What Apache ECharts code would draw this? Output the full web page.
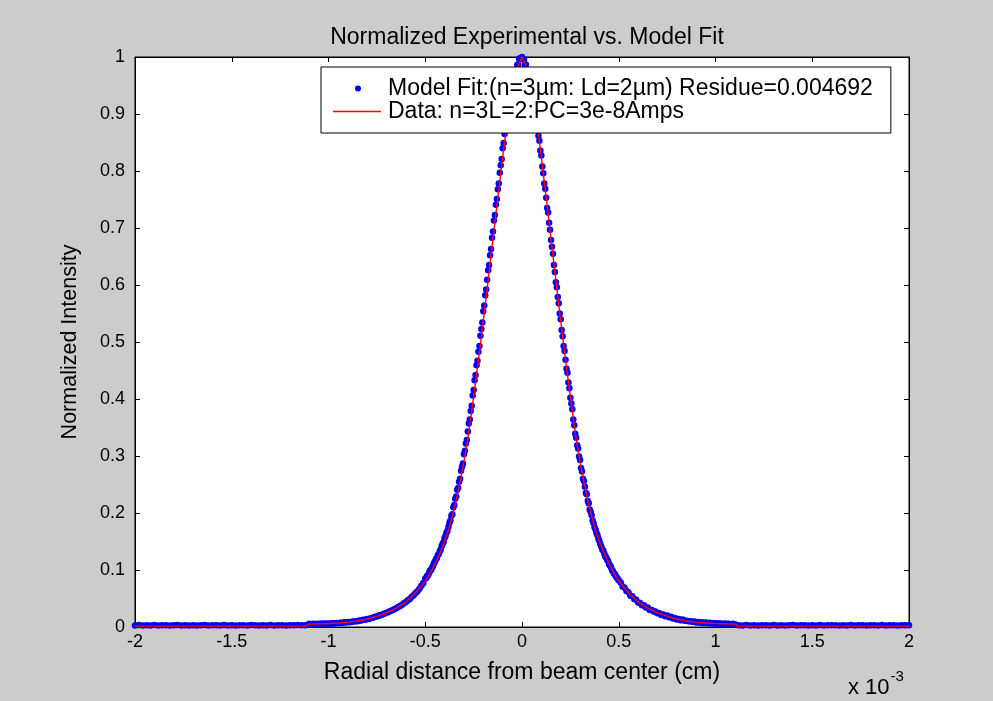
<!DOCTYPE html>
<html>
<head>
<meta charset="utf-8">
<title>Normalized Experimental vs. Model Fit</title>
<script src="https://cdn.jsdelivr.net/npm/echarts@6/dist/echarts.min.js"></script>
<style>
  html, body { margin: 0; padding: 0; background: #cccccc; }
  #chart { width: 993px; height: 701px; }
</style>
</head>
<body>
<div id="chart"></div>
<script>
// Radial positions are in units of 1e-3 cm (see the "x 10^-3" multiplier).
const titleText = 'Normalized Experimental vs. Model Fit';
const xAxisName = 'Radial distance from beam center (cm)';
const yAxisName = 'Normalized Intensity';
const fitName = 'Model Fit:(n=3\u00b5m: Ld=2\u00b5m) Residue=0.004692';
const dataName = 'Data: n=3L=2:PC=3e-8Amps';

// Model fit samples, grouped by sampling segment: [start, step, values]
const fitTailLeft = [
  0.0027,0.0033,0.0025,0.0031,0.0028,0.0034,0.0026,0.0030,0.0032,0.0027,
  0.0029,0.0033,0.0025,0.0031,0.0028,0.0032,0.0026,0.0030,0.0034,0.0027,
  0.0029,0.0031,0.0026,0.0033,0.0028,0.0030,0.0025,0.0032,0.0029,0.0027,
  0.0033,0.0030,0.0026,0.0031,0.0028,0.0034,0.0027,0.0030,0.0032,0.0028,
  0.0031,0.0029,0.0033,0.0030,0.0032
];
const fitMidLeft = [
  0.0055,0.0050,0.0057,0.0051,0.0058,0.0053,0.0060,0.0054,0.0061,0.0056,
  0.0063,0.0059,0.0067,0.0062,0.0071,0.0066,0.0076,0.0071,0.0082,0.0077,
  0.0088,0.0084,0.0094,0.0096,0.0103,0.0101,0.0113,0.0112,0.0127,0.0126,
  0.0141,0.0142,0.0160,0.0162,0.0180,0.0183,0.0201,0.0207,0.0224,0.0236,
  0.0250,0.0264,0.0280,0.0296,0.0313,0.0328,0.0352,0.0368,0.0392,0.0415,
  0.0438,0.0468,0.0492,0.0530,0.0555,0.0595,0.0628,0.0672,0.0725,0.0772
];
const fitCore = [
  // x = -0.500 ... -0.005
  0.085,0.086,0.090,0.091,0.095,0.099,0.100,0.104,0.107,0.112,
  0.115,0.119,0.121,0.126,0.128,0.133,0.136,0.142,0.146,0.149,
  0.156,0.160,0.166,0.169,0.176,0.183,0.187,0.195,0.198,0.210,
  0.214,0.225,0.229,0.241,0.244,0.255,0.260,0.274,0.281,0.287,
  0.303,0.309,0.322,0.328,0.343,0.357,0.364,0.379,0.388,0.406,
  0.416,0.433,0.442,0.459,0.467,0.483,0.493,0.511,0.523,0.534,
  0.554,0.564,0.582,0.592,0.609,0.626,0.635,0.652,0.663,0.683,
  0.694,0.713,0.723,0.741,0.751,0.768,0.778,0.797,0.810,0.821,
  0.840,0.849,0.865,0.874,0.888,0.900,0.906,0.918,0.925,0.939,
  0.945,0.958,0.962,0.974,0.976,0.986,0.987,0.997,0.998,0.997,
  // x = 0.000 ... 0.500
  1.000,0.996,0.996,0.987,0.987,0.978,0.968,0.966,0.954,0.948,
  0.935,0.929,0.921,0.906,0.897,0.884,0.878,0.862,0.853,0.836,
  0.827,0.808,0.796,0.778,0.769,0.753,0.735,0.727,0.709,0.697,
  0.679,0.667,0.655,0.635,0.623,0.605,0.596,0.579,0.568,0.550,
  0.540,0.521,0.510,0.493,0.484,0.469,0.453,0.446,0.429,0.419,
  0.402,0.392,0.382,0.364,0.354,0.339,0.332,0.319,0.313,0.299,
  0.293,0.279,0.273,0.260,0.256,0.246,0.235,0.233,0.221,0.217,
  0.206,0.202,0.196,0.187,0.182,0.175,0.171,0.165,0.161,0.155,
  0.151,0.145,0.141,0.136,0.134,0.129,0.124,0.122,0.118,0.116,
  0.110,0.108,0.105,0.100,0.098,0.094,0.093,0.089,0.087,0.084,
  0.082
];
const fitMidRight = [
  0.078,0.071,0.069,0.063,0.061,0.055,0.054,0.049,0.048,0.043,
  0.042,0.038,0.038,0.034,0.034,0.030,0.030,0.027,0.027,0.024,
  0.024,0.021,0.022,0.019,0.020,0.017,0.018,0.015,0.016,0.013,
  0.014,0.012,0.013,0.011,0.011,0.010,0.010,0.009,0.0095,0.008,
  0.0088,0.0075,0.0082,0.0070,0.0078,0.0066,0.0073,0.0062,0.0068,0.0058,
  0.0066,0.0056,0.0063,0.0054,0.0061,0.0052,0.0058,0.0050,0.0056,0.0049
];
const fitTailRight = [
  0.0031,0.0026,0.0033,0.0028,0.0030,0.0025,0.0032,0.0029,0.0027,0.0034,
  0.0028,0.0031,0.0026,0.0030,0.0033,0.0027,0.0029,0.0032,0.0025,0.0031,
  0.0028,0.0034,0.0026,0.0030,0.0029,0.0032,0.0027,0.0031,0.0028,0.0033,
  0.0026,0.0030,0.0032,0.0027,0.0029,0.0031,0.0025,0.0033,0.0028,0.0030,
  0.0032,0.0027,0.0031,0.0029,0.0030
];
const fitSegments = [
  [-2.00, 0.02, fitTailLeft],
  [-1.10, 0.01, fitMidLeft],
  [-0.50, 0.005, fitCore],
  [0.51, 0.01, fitMidRight],
  [1.12, 0.02, fitTailRight]
];

// Measured profile (red trace)
const dataX = [
  -2.00,-1.12,-1.10,-1.05,-1.00,-0.95,-0.90,-0.85,-0.80,-0.75,-0.70,-0.65,-0.60,-0.55,
  -0.50,-0.48,-0.46,-0.44,-0.42,-0.40,-0.38,-0.36,-0.34,-0.32,-0.30,-0.28,-0.26,-0.24,
  -0.22,-0.20,-0.18,-0.16,-0.14,-0.12,-0.10,-0.08,-0.06,-0.04,-0.02,0.00,
  0.02,0.04,0.06,0.08,0.10,0.12,0.14,0.16,0.18,0.20,0.22,0.24,0.26,0.28,0.30,
  0.32,0.34,0.36,0.38,0.40,0.42,0.44,0.46,0.48,0.50,0.55,0.60,0.65,0.70,0.75,
  0.80,0.85,0.90,0.95,1.00,1.05,1.10,1.12,2.00
];
const dataY = [
  0.0015,0.0015,0.0051,0.0056,0.0061,0.0071,0.0085,0.0106,0.0140,0.0190,0.0250,0.0330,0.0440,0.0600,
  0.081,0.092,0.104,0.118,0.133,0.150,0.170,0.195,0.222,0.254,0.290,0.330,0.379,0.430,
  0.482,0.537,0.594,0.652,0.710,0.767,0.824,0.876,0.918,0.955,0.985,1.000,
  0.985,0.955,0.918,0.876,0.824,0.767,0.710,0.652,0.594,0.537,0.482,0.430,0.379,0.330,0.290,
  0.254,0.222,0.195,0.170,0.150,0.133,0.118,0.104,0.092,0.081,0.060,0.044,0.033,0.025,0.019,
  0.0140,0.0106,0.0085,0.0071,0.0061,0.0056,0.0051,0.0015,0.0015
];

const xTicks = { min: -2, max: 2, step: 0.5 };
const yTicks = { min: 0, max: 1, step: 0.1 };

const fitPoints = [];
fitSegments.forEach(([start, step, vals]) => {
  vals.forEach((v, i) => fitPoints.push([+(start + i * step).toFixed(3), v]));
});
const dataPoints = dataX.map((x, i) => [x, dataY[i]]);

const FONT = '"Liberation Sans", Arial, sans-serif';
const svgIcon = (body) => 'image://data:image/svg+xml;charset=utf-8,' + encodeURIComponent(
  "<svg xmlns='http://www.w3.org/2000/svg' width='50' height='14'>" + body + "</svg>"
);
const dotIcon = svgIcon("<circle cx='25' cy='7' r='3' fill='#0000ff'/>");
const lineIcon = svgIcon("<line x1='0' y1='7' x2='48' y2='7' stroke='#ff0000' stroke-width='1.4'/>");

const tickStyle = { show: true, inside: true, length: 5, lineStyle: { color: '#000', width: 1 } };
const lineStyle = { show: true, onZero: false, lineStyle: { color: '#000', width: 1 } };

const chart = echarts.init(document.getElementById('chart'), null, { renderer: 'canvas' });
chart.setOption({
  backgroundColor: '#cccccc',
  animation: false,
  title: {
    text: titleText,
    left: 522,
    top: 21,
    textAlign: 'center',
    textStyle: { fontFamily: FONT, fontSize: 23, fontWeight: 'normal', color: '#000' }
  },
  legend: {
    orient: 'vertical',
    left: 321,
    top: 67,
    padding: [10, 18, 10, 12],
    itemWidth: 50,
    itemHeight: 14,
    itemGap: 0,
    backgroundColor: '#ffffff',
    borderColor: '#000',
    borderWidth: 1,
    borderRadius: 0,
    textStyle: { fontFamily: FONT, fontSize: 23, color: '#000', lineHeight: 22 },
    data: [
      { name: fitName, icon: dotIcon },
      { name: dataName, icon: lineIcon }
    ]
  },
  grid: {
    left: 135, right: 84, top: 57, bottom: 74,
    show: true, backgroundColor: '#ffffff', borderColor: '#000', borderWidth: 1,
    containLabel: false
  },
  xAxis: [
    {
      type: 'value', position: 'bottom',
      min: xTicks.min, max: xTicks.max, interval: xTicks.step,
      axisLine: lineStyle, axisTick: tickStyle, splitLine: { show: false },
      axisLabel: { fontFamily: FONT, fontSize: 18, color: '#000', margin: 6 },
      name: xAxisName, nameLocation: 'middle', nameGap: 34,
      nameTextStyle: { fontFamily: FONT, fontSize: 23, color: '#000' }
    },
    {
      type: 'value', position: 'top',
      min: xTicks.min, max: xTicks.max, interval: xTicks.step,
      axisLine: lineStyle, axisTick: tickStyle, splitLine: { show: false },
      axisLabel: { show: false }
    }
  ],
  yAxis: [
    {
      type: 'value', position: 'left',
      min: yTicks.min, max: yTicks.max, interval: yTicks.step,
      axisLine: lineStyle, axisTick: tickStyle, splitLine: { show: false },
      axisLabel: { fontFamily: FONT, fontSize: 18, color: '#000', margin: 10 },
      name: yAxisName, nameLocation: 'middle', nameGap: 54, nameRotate: 90,
      nameTextStyle: { fontFamily: FONT, fontSize: 21.5, color: '#000' }
    },
    {
      type: 'value', position: 'right',
      min: yTicks.min, max: yTicks.max, interval: yTicks.step,
      axisLine: lineStyle, axisTick: tickStyle, splitLine: { show: false },
      axisLabel: { show: false }
    }
  ],
  graphic: [
    {
      type: 'text', left: 848, top: 669,
      style: {
        text: '{a|x 10}{s|-3}',
        rich: {
          a: { fontFamily: FONT, fontSize: 22, fill: '#000', padding: [14, 0, 0, 0] },
          s: { fontFamily: FONT, fontSize: 15, fill: '#000', padding: [0, 0, 9, 1] }
        }
      }
    }
  ],
  series: [
    {
      name: fitName, type: 'scatter', z: 2,
      symbol: 'circle', symbolSize: 6.5,
      itemStyle: { color: '#0000ff', opacity: 1 },
      data: fitPoints
    },
    {
      name: dataName, type: 'line', z: 3,
      showSymbol: false, symbol: 'none',
      lineStyle: { color: '#ff0000', width: 1.4 },
      itemStyle: { color: '#ff0000' },
      data: dataPoints
    }
  ]
});
</script>
</body>
</html>
